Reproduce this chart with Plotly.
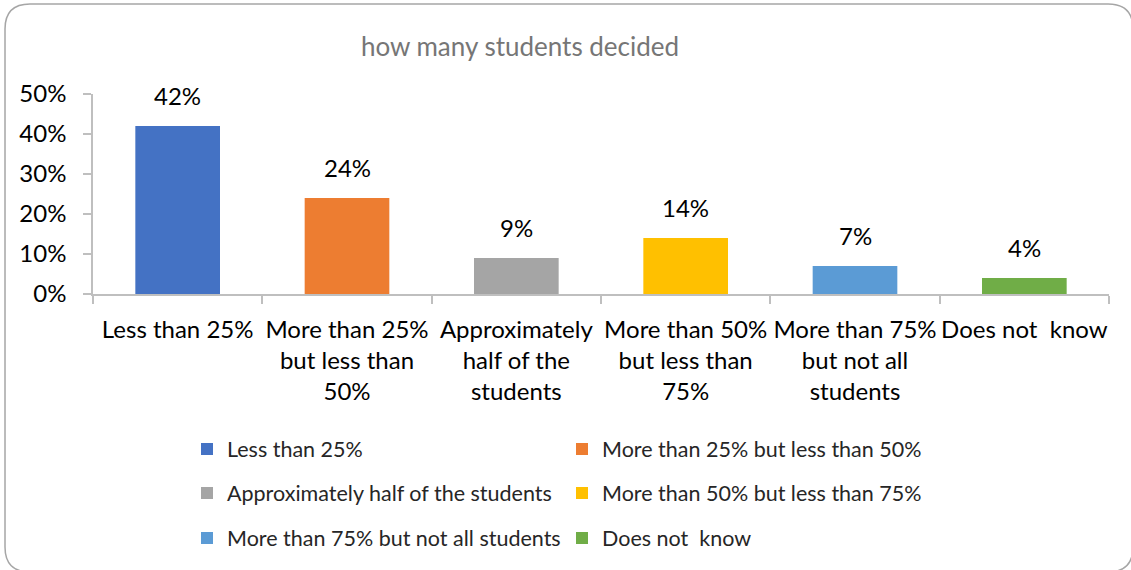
import plotly.graph_objects as go

# Survey answers and their shares
categories = [
    "Less than 25%",
    "More than 25% but less than 50%",
    "Approximately half of the students",
    "More than 50% but less than 75%",
    "More than 75% but not all students",
    "Does not  know",
]
axis_labels = [
    "Less than 25%",
    "More than 25%<br>but less than<br>50%",
    "Approximately<br>half of the<br>students",
    "More than 50%<br>but less than<br>75%",
    "More than 75%<br>but not all<br>students",
    "Does not\u00a0 know",
]
shares = [0.42, 0.24, 0.09, 0.14, 0.07, 0.04]
colors = ["#4472C4", "#ED7D31", "#A5A5A5", "#FFC000", "#5B9BD5", "#70AD47"]

W, H = 1131, 570
ML, MR, MT, MB = 93, 22, 94, 276
PW, PH = W - ML - MR, H - MT - MB

FONT = "Lato"
TEXT_SIZE = 24


def px_x(x):
    return (x - ML) / PW


def px_y(y):
    return (H - MB - y) / PH


# two legend entries per row, three rows
legend_ids = ["legend", "legend2", "legend3"]

fig = go.Figure()
for i, (cat, lab, val, col) in enumerate(zip(categories, axis_labels, shares, colors)):
    fig.add_trace(go.Bar(
        x=[lab], y=[val], name=cat.replace("  ", "\u00a0 "),
        marker=dict(color=col, line=dict(width=0)),
        width=0.5, legend=legend_ids[i // 2],
        hovertemplate="%{y:.0%}<extra>" + cat + "</extra>",
    ))
    fig.add_annotation(
        x=lab, y=val, text=f"{round(val * 100)}%", showarrow=False,
        yanchor="bottom", yshift=14,
        font=dict(family=FONT, size=TEXT_SIZE, color="#000000"),
    )

legend_rows = [449, 493, 538]
legend_common = dict(
    orientation="h", xanchor="left", yanchor="middle", x=px_x(187),
    font=dict(family=FONT, size=21.5, color="#262626"), bgcolor="rgba(0,0,0,0)",
    entrywidth=330, traceorder="normal", itemclick=False, itemdoubleclick=False,
)

# rounded chart frame
r = 25
x0, y0, x1, y1 = 5, 4, 1133, 572


def P(x, y):
    return f"{px_x(x):.5f},{px_y(y):.5f}"


frame = (
    f"M{P(x0 + r, y0)} L{P(x1 - r, y0)} Q{P(x1, y0)} {P(x1, y0 + r)} "
    f"L{P(x1, y1 - r)} Q{P(x1, y1)} {P(x1 - r, y1)} "
    f"L{P(x0 + r, y1)} Q{P(x0, y1)} {P(x0, y1 - r)} "
    f"L{P(x0, y0 + r)} Q{P(x0, y0)} {P(x0 + r, y0)} Z"
)

fig.update_layout(
    width=W, height=H,
    margin=dict(l=ML, r=MR, t=MT, b=MB, autoexpand=False),
    paper_bgcolor="white", plot_bgcolor="white",
    barmode="overlay",
    font=dict(family=FONT, size=TEXT_SIZE, color="#000000"),
    title=dict(
        text="how many students decided", x=520 / W, xanchor="center",
        y=1 - 47 / H, yanchor="middle", yref="container",
        font=dict(family=FONT, size=26, color="#767676"),
    ),
    xaxis=dict(
        type="category", showline=True, linecolor="#BFBFBF", linewidth=1.5,
        ticks="outside", tickson="boundaries", ticklen=8, tickcolor="#BFBFBF",
        tickwidth=1.5, showgrid=False, tickangle=0, automargin=False,
        tickfont=dict(family=FONT, size=TEXT_SIZE, color="#000000"),
        ticklabelstandoff=13,
    ),
    yaxis=dict(
        range=[0, 0.5], dtick=0.1, tickformat=".0%", showline=True,
        linecolor="#BFBFBF", linewidth=1.5, ticks="outside", ticklen=8,
        tickcolor="#BFBFBF", tickwidth=1.5, showgrid=False, zeroline=False,
        automargin=False,
        tickfont=dict(family=FONT, size=TEXT_SIZE, color="#000000"),
        ticklabelstandoff=12,
    ),
    legend=dict(y=px_y(legend_rows[0]), **legend_common),
    legend2=dict(y=px_y(legend_rows[1]), **legend_common),
    legend3=dict(y=px_y(legend_rows[2]), **legend_common),
    shapes=[dict(
        type="path", xref="paper", yref="paper", path=frame,
        line=dict(color="#A6A6A6", width=1.5), layer="below",
    )],
)

fig.write_html("out.html")
